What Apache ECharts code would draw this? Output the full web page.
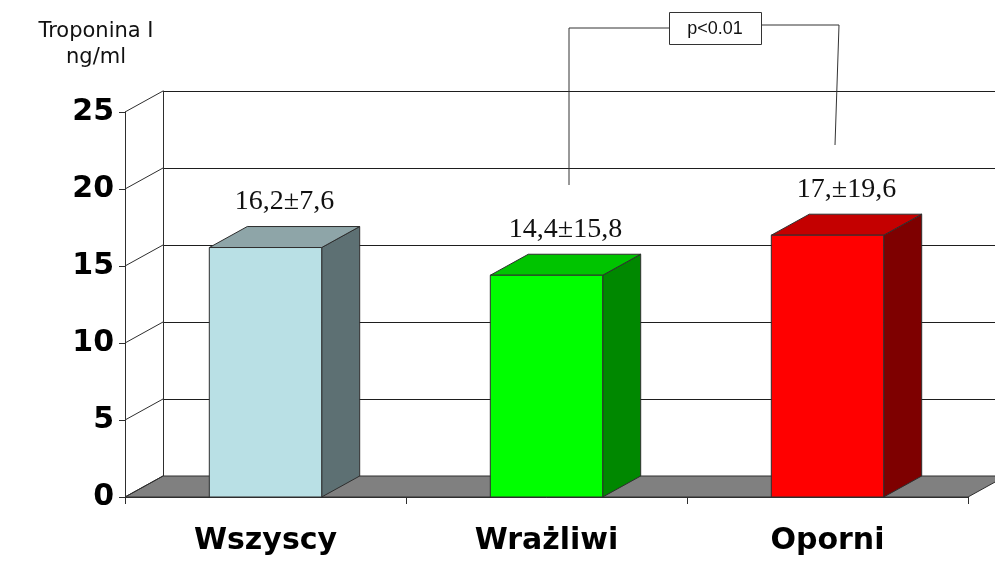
<!DOCTYPE html>
<html>
<head>
<meta charset="utf-8">
<title>Troponina I</title>
<script src="https://cdn.jsdelivr.net/npm/echarts@6/dist/echarts.min.js"></script>
<style>
  html, body { margin: 0; padding: 0; background: #ffffff; }
  #chart { width: 995px; height: 563px; }
</style>
</head>
<body>
<div id="chart"></div>
<script>
// Groups and their mean troponin I level (ng/ml)
const categories = ['Wszyscy', 'Wrażliwi', 'Oporni'];
const means = [16.2, 14.4, 17];
const valueLabels = ['16,2±7,6', '14,4±15,8', '17,±19,6'];
const yTicks = [0, 5, 10, 15, 20, 25];

// Face colours of each 3D bar: front, side, top
const frontColors = ['#b9e0e5', '#00ff00', '#ff0000'];
const sideColors = ['#5d7073', '#008800', '#7e0000'];
const topColors = ['#8ea5a8', '#00c400', '#c40000'];

// Depth offset of the pseudo-3D box (back wall vs. front plane)
const DX = 38, DY = -21;
const EDGE = '#2e2e2e';

const chart = echarts.init(document.getElementById('chart'), null, { renderer: 'canvas' });

const option = {
  animation: false,
  backgroundColor: '#ffffff',
  title: {
    text: 'Troponina I\nng/ml',
    left: 91,
    top: 14,
    textAlign: 'center',
    textStyle: {
      fontFamily: 'DejaVu Sans',
      fontSize: 21,
      fontWeight: 'normal',
      lineHeight: 26,
      color: '#111'
    }
  },
  grid: [
    // front plane: value axis and category axis
    { left: 125, right: 27, top: 112, bottom: 66 },
    // back wall carrying the horizontal grid lines
    { left: 163, right: -11, top: 91, bottom: 87 }
  ],
  xAxis: [
    {
      type: 'category',
      gridIndex: 0,
      data: categories,
      axisLine: { show: true, lineStyle: { color: EDGE, width: 1 } },
      axisTick: { show: true, length: 7, lineStyle: { color: EDGE } },
      axisLabel: {
        margin: 29,
        fontFamily: 'DejaVu Sans',
        fontWeight: 'bold',
        fontSize: 30,
        color: '#000'
      },
      splitLine: { show: false }
    },
    {
      type: 'category',
      gridIndex: 1,
      data: categories,
      show: false
    }
  ],
  yAxis: [
    {
      type: 'value',
      gridIndex: 0,
      min: 0,
      max: 25,
      interval: 5,
      axisLine: { show: true, lineStyle: { color: EDGE, width: 1 } },
      axisTick: { show: true, length: 6, lineStyle: { color: EDGE } },
      axisLabel: {
        margin: 11,
        fontFamily: 'DejaVu Sans',
        fontWeight: 'bold',
        fontSize: 30,
        color: '#000'
      },
      splitLine: { show: false }
    },
    {
      type: 'value',
      gridIndex: 1,
      min: 0,
      max: 25,
      interval: 5,
      axisLine: { show: true, lineStyle: { color: EDGE, width: 1 } },
      axisTick: { show: false },
      axisLabel: { show: false },
      splitLine: { show: true, lineStyle: { color: '#1e1e1e', width: 1 } }
    }
  ],
  series: [
    {
      // grey floor of the box
      type: 'custom',
      xAxisIndex: 0,
      yAxisIndex: 0,
      silent: true,
      z: 2,
      data: [[0, 0]],
      renderItem: function (params, api) {
        const cs = params.coordSys;
        const yb = api.coord([0, 0])[1];
        const xl = cs.x, xr = cs.x + cs.width;
        return {
          type: 'polygon',
          shape: { points: [[xl, yb], [xr, yb], [xr + DX, yb + DY], [xl + DX, yb + DY]] },
          style: { fill: '#808080', stroke: EDGE, lineWidth: 1 }
        };
      }
    },
    {
      // slanted lines joining front ticks with the back wall
      type: 'custom',
      xAxisIndex: 0,
      yAxisIndex: 0,
      silent: true,
      z: 3,
      data: yTicks.map(function (v) { return [0, v]; }),
      renderItem: function (params, api) {
        const cs = params.coordSys;
        const y = api.coord([0, api.value(1)])[1];
        return {
          type: 'line',
          shape: { x1: cs.x, y1: y, x2: cs.x + DX, y2: y + DY },
          style: { stroke: EDGE, lineWidth: 1 }
        };
      }
    },
    {
      // pseudo-3D bars with their mean ± SD labels
      type: 'custom',
      xAxisIndex: 0,
      yAxisIndex: 0,
      silent: true,
      z: 4,
      encode: { x: 0, y: 1 },
      data: means.map(function (v, i) { return [i, v]; }),
      renderItem: function (params, api) {
        const i = api.value(0);
        const v = api.value(1);
        const top = api.coord([i, v]);
        const base = api.coord([i, 0]);
        const bw = api.size([1, 0])[0] * 0.4;
        const x0 = top[0] - bw / 2, x1 = top[0] + bw / 2;
        const yt = top[1], yb = base[1];
        return {
          type: 'group',
          children: [
            {
              type: 'polygon',
              shape: { points: [[x1, yt], [x1 + DX, yt + DY], [x1 + DX, yb + DY], [x1, yb]] },
              style: { fill: sideColors[i], stroke: EDGE, lineWidth: 1 }
            },
            {
              type: 'polygon',
              shape: { points: [[x0, yt], [x1, yt], [x1 + DX, yt + DY], [x0 + DX, yt + DY]] },
              style: { fill: topColors[i], stroke: EDGE, lineWidth: 1 }
            },
            {
              type: 'rect',
              shape: { x: x0, y: yt, width: bw, height: yb - yt },
              style: { fill: frontColors[i], stroke: EDGE, lineWidth: 1 }
            },
            {
              type: 'text',
              x: top[0] + DX / 2,
              y: yt + DY - 25,
              style: {
                text: valueLabels[i],
                align: 'center',
                verticalAlign: 'middle',
                fontFamily: 'Liberation Serif',
                fontSize: 28,
                fill: '#111'
              }
            }
          ]
        };
      }
    }
  ],
  graphic: [
    {
      type: 'polyline',
      silent: true,
      z: 10,
      shape: { points: [[569, 185], [569, 28], [669, 28]] },
      style: { stroke: '#333', lineWidth: 1, fill: null }
    },
    {
      type: 'polyline',
      silent: true,
      z: 10,
      shape: { points: [[761, 25], [839, 25], [835, 145]] },
      style: { stroke: '#333', lineWidth: 1, fill: null }
    },
    {
      type: 'rect',
      silent: true,
      z: 10,
      shape: { x: 669.5, y: 12.5, width: 92, height: 32 },
      style: { fill: '#fff', stroke: '#333', lineWidth: 1 }
    },
    {
      type: 'text',
      silent: true,
      z: 11,
      x: 715,
      y: 29,
      style: {
        text: 'p<0.01',
        align: 'center',
        verticalAlign: 'middle',
        fontFamily: 'Liberation Sans',
        fontSize: 18,
        fill: '#111'
      }
    }
  ]
};

chart.setOption(option);
</script>
</body>
</html>
